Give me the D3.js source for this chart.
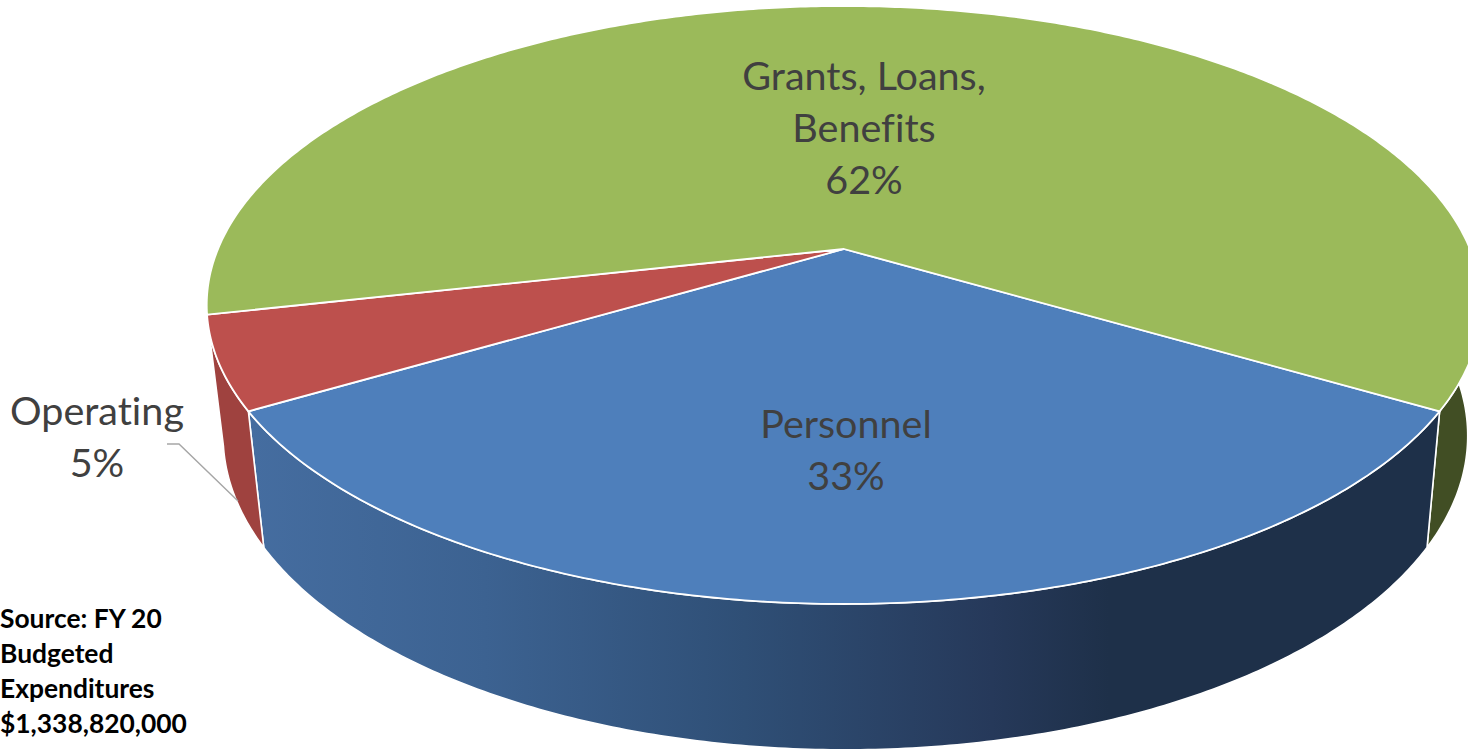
<!DOCTYPE html>
<html>
<head>
<meta charset="utf-8">
<style>
html,body{margin:0;padding:0;background:#fff}
svg{display:block}
text{font-family:Lato,"Open Sans",sans-serif;font-variant-ligatures:none}
</style>
<script src="https://cdn.jsdelivr.net/npm/d3@7/dist/d3.min.js"></script>
</head>
<body>
<svg id="chart" width="1468" height="750"></svg>
<script>
// FY 20 budgeted expenditures, share by category (percent)
const categories = ["Personnel", "Operating", "Grants, Loans, Benefits"];
const shares = [33, 5, 62];
const percentLabels = ["33%", "5%", "62%"];
const labelLines = [["Personnel"], ["Operating"], ["Grants, Loans,", "Benefits"]];
const topColors = ["#4e7fbb", "#bd504d", "#9bba5a"];
const sideColors = ["url(#sideBlue)", "#9f423f", "#414e24"];
const sourceLines = ["Source: FY 20", "Budgeted", "Expenditures", "$1,338,820,000"];

const svg = d3.select("#chart");

// Disc perspective: near edge is magnified by 1/(1 - tilt * v)
const tilt = 0.1873;
const topDisc = {x0: 844, y0: 249, ax: 626, ay: 288.5};
const baseDisc = {x0: 845.4, y0: 377, ax: 611.3, ay: 303};

function project(disc, angle) {
  const u = Math.sin(angle), v = -Math.cos(angle);
  const w = 1 - tilt * v;
  return [disc.x0 + disc.ax * u / w, disc.y0 + disc.ay * v / w];
}
function arcPoints(disc, a0, a1) {
  const n = Math.max(2, Math.ceil(Math.abs(a1 - a0) / 0.01));
  return d3.range(n + 1).map(i => project(disc, a0 + (a1 - a0) * i / n));
}

const startDeg = 120.6;
const pie = d3.pie().sort(null)
  .startAngle(startDeg * Math.PI / 180)
  .endAngle((startDeg + 360) * Math.PI / 180);
const arcs = pie(shares);
const line = d3.line();
const colorTop = d3.scaleOrdinal(categories, topColors);
const colorSide = d3.scaleOrdinal(categories, sideColors);

const grad = svg.append("defs").append("linearGradient")
  .attr("id", "sideBlue").attr("gradientUnits", "userSpaceOnUse")
  .attr("x1", 250).attr("x2", 1427).attr("y1", 0).attr("y2", 0);
[[0, "#456da0"], [0.2, "#3c6291"], [0.42, "#2f4f76"], [0.63, "#26395a"], [0.73, "#1e3049"], [1, "#1e3049"]]
  .forEach(([o, c]) => grad.append("stop").attr("offset", o).attr("stop-color", c));

function wallPath(a0, a1) {
  return line(arcPoints(topDisc, a0, a1).concat(arcPoints(baseDisc, a0, a1).reverse())) + "Z";
}

// Outer walls: the green one only shows right of the blue seam, the others run their full arc
const walls = [
  {i: 2, a0: Math.PI / 2, a1: arcs[0].startAngle},
  {i: 0, a0: arcs[0].startAngle, a1: arcs[0].endAngle},
  {i: 1, a0: arcs[1].startAngle, a1: arcs[1].endAngle}
];
svg.append("g").selectAll("path")
  .data(walls)
  .join("path")
  .attr("d", d => wallPath(d.a0, d.a1))
  .attr("fill", d => colorSide(categories[d.i]))
  .attr("stroke", "#fff").attr("stroke-width", 1.6).attr("stroke-linejoin", "round");

// Top face
svg.append("g").selectAll("path")
  .data(arcs)
  .join("path")
  .attr("d", d => line([[topDisc.x0, topDisc.y0]].concat(arcPoints(topDisc, d.startAngle, d.endAngle))) + "Z")
  .attr("fill", (d, i) => colorTop(categories[i]))
  .attr("stroke", "#fff").attr("stroke-width", 1.8).attr("stroke-linejoin", "round");

// Leader line for the small slice
svg.append("path")
  .attr("d", line([[167, 444], [179, 444], [238, 501]]))
  .attr("fill", "none").attr("stroke", "#a6a6a6").attr("stroke-width", 1.4);

// Data labels
const labelPos = [[846, 438], [97, 425], [864, 90]];
const labelStep = 52;
const labels = svg.append("g").attr("fill", "#404040").attr("font-size", 39.5).attr("text-anchor", "middle");
categories.forEach((c, i) => {
  const [x, y] = labelPos[i];
  const t = labels.append("text").attr("x", x).attr("y", y);
  labelLines[i].concat(percentLabels[i]).forEach((s, j) => {
    t.append("tspan").attr("x", x).attr("y", y + j * labelStep).text(s);
  });
});

// Source note
svg.append("g").selectAll("text")
  .data(sourceLines)
  .join("text")
  .attr("x", 0)
  .attr("y", (d, i) => 628 + i * 35)
  .attr("font-size", 26.4).attr("font-weight", 700).attr("fill", "#000")
  .text(d => d);
</script>
</body>
</html>
